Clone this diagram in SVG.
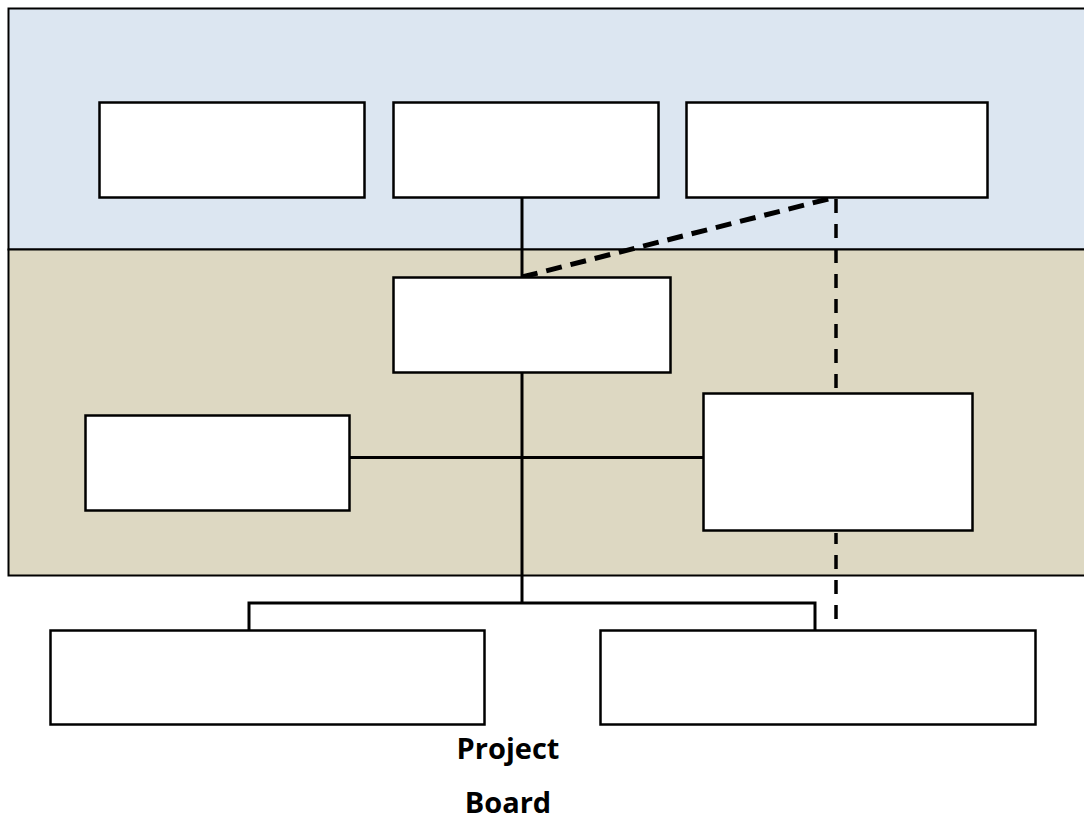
<svg xmlns="http://www.w3.org/2000/svg" width="1084" height="819" viewBox="0 0 1084 819">
<style>
.box{fill:#fff;stroke:#000;stroke-width:2.5}
.ln{fill:none;stroke:#000;stroke-width:3}
.dash{fill:none;stroke:#000;stroke-width:5;stroke-dasharray:16,9}
.dashv{fill:none;stroke:#000;stroke-width:3.5;stroke-dasharray:14,11}
.lbl{font-family:"Open Sans","Liberation Sans",sans-serif;font-weight:bold;font-size:29px;fill:#000;text-anchor:middle}
</style>
<rect x="0" y="0" width="1084" height="819" fill="#fff"/>
<g id="band-top"><rect x="8.5" y="8.5" width="1080" height="241" fill="#dce6f1" stroke="#000" stroke-width="2"/></g>
<g id="band-mid"><rect x="8.5" y="249.5" width="1080" height="326" fill="#ddd8c2" stroke="#000" stroke-width="2"/></g>
<g id="connectors">
<path class="ln" d="M522 197 V277"/>
<path class="dash" d="M522 277 L836 197"/>
<path class="dashv" d="M836 199 V393"/>
<path class="dashv" d="M836 533 V625" stroke-dashoffset="3"/>
<path class="ln" d="M522 372 V603"/>
<path class="ln" d="M349 457.5 H703"/>
<path class="ln" d="M249 630 V603 H815 V630"/>
</g>
<g id="n1"><rect class="box" x="99.5" y="102.5" width="265" height="95"/></g>
<g id="n2"><rect class="box" x="393.5" y="102.5" width="265" height="95"/></g>
<g id="n3"><rect class="box" x="686.5" y="102.5" width="301" height="95"/></g>
<g id="n4"><rect class="box" x="393.5" y="277.5" width="277" height="95"/></g>
<g id="n5"><rect class="box" x="85.5" y="415.5" width="264" height="95"/></g>
<g id="n6"><rect class="box" x="703.5" y="393.5" width="269" height="137"/></g>
<g id="n7"><rect class="box" x="50.5" y="630.5" width="434" height="94"/></g>
<g id="n8"><rect class="box" x="600.5" y="630.5" width="435" height="94"/></g>
<g id="label">
<text class="lbl" x="508" y="759" text-anchor="middle">Project</text>
<text class="lbl" x="508" y="813" text-anchor="middle">Board</text>
</g>
</svg>
